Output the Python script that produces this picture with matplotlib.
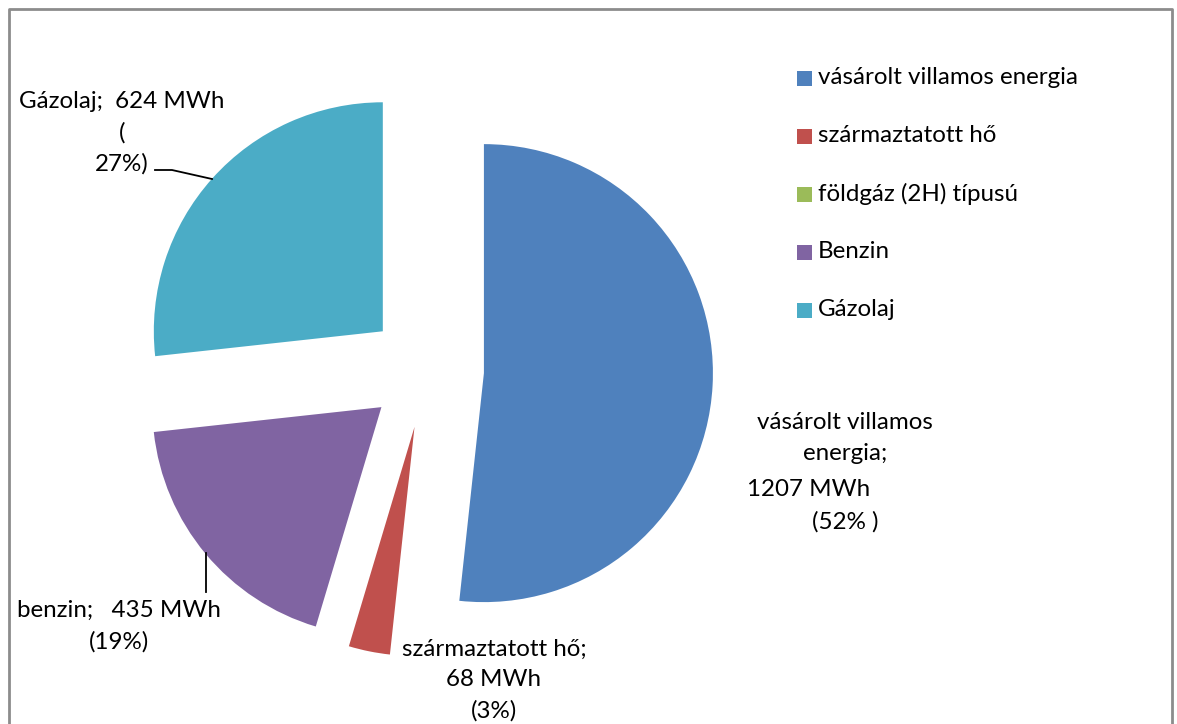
import matplotlib
matplotlib.use('Agg')
import matplotlib.pyplot as plt

# adatok
kategoriak = ['vásárolt villamos energia', 'származtatott hő', 'földgáz (2H) típusú', 'Benzin', 'Gázolaj']
ertekek = [1207, 68, 0, 435, 624]
szinek = ['#4F81BD', '#C0504D', '#9BBB59', '#8064A2', '#4BACC6']
cimkek = ['vásárolt villamos\nenergia;\n1207 MWh\n(52% )',
          'származtatott hő;\n68 MWh\n(3%)',
          '',
          'benzin;   435 MWh\n(19%)',
          'Gázolaj;  624 MWh\n(\n27%)']

plt.rcParams['font.family'] = ['Lato', 'DejaVu Sans']

W, H = 1177, 724
fig = plt.figure(figsize=(W / 100, H / 100), dpi=100)
ax = fig.add_axes([0, 0, 1, 1])

# kör középpont és sugár pixelben (y lefelé mérve)
cx, cy, r = 426, 370, 229
ax.pie(ertekek, colors=szinek, center=(cx, H - cy), radius=r,
       startangle=90, counterclock=False, explode=[58] * len(ertekek),
       wedgeprops=dict(linewidth=0), frame=True)
ax.set_xlim(0, W)
ax.set_ylim(0, H)
ax.set_aspect('equal')
ax.axis('off')

fs = 17.4
lsp = 1.57
# cimkek
sorok = cimkek[0].split('\n')
ax.text(845, H - 438, sorok[0] + '\n' + sorok[1], ha='center', va='center',
        fontsize=fs, linespacing=lsp)
ax.text(809, H - 489, sorok[2], ha='center', va='center', fontsize=fs)
ax.text(845, H - 522, sorok[3], ha='center', va='center', fontsize=fs)
ax.text(494, H - 680, cimkek[1], ha='center', va='center', fontsize=fs, linespacing=lsp)
ax.text(119, H - 626, cimkek[3], ha='center', va='center', fontsize=fs, linespacing=lsp)
ax.text(122, H - 133, cimkek[4], ha='center', va='center', fontsize=fs, linespacing=lsp)

# vezeto vonalak
ax.plot([155, 172, 212], [H - 170, H - 170, H - 179], color='black', lw=1.3)
ax.plot([206, 206], [H - 553, H - 592], color='black', lw=1.3)

# jelmagyarazat
for i, (k, c) in enumerate(zip(kategoriak, szinek)):
    y = H - (78 + i * 58)
    ax.add_patch(plt.Rectangle((797, y - 8), 15, 15, color=c, lw=0))
    ax.text(818, y, k, ha='left', va='center', fontsize=fs)

# keret
ax.plot([9, 9, 1172, 1172], [0, H - 9, H - 9, 0], color='#8C8C8C', lw=2)

fig.savefig('out.png', dpi=100)
